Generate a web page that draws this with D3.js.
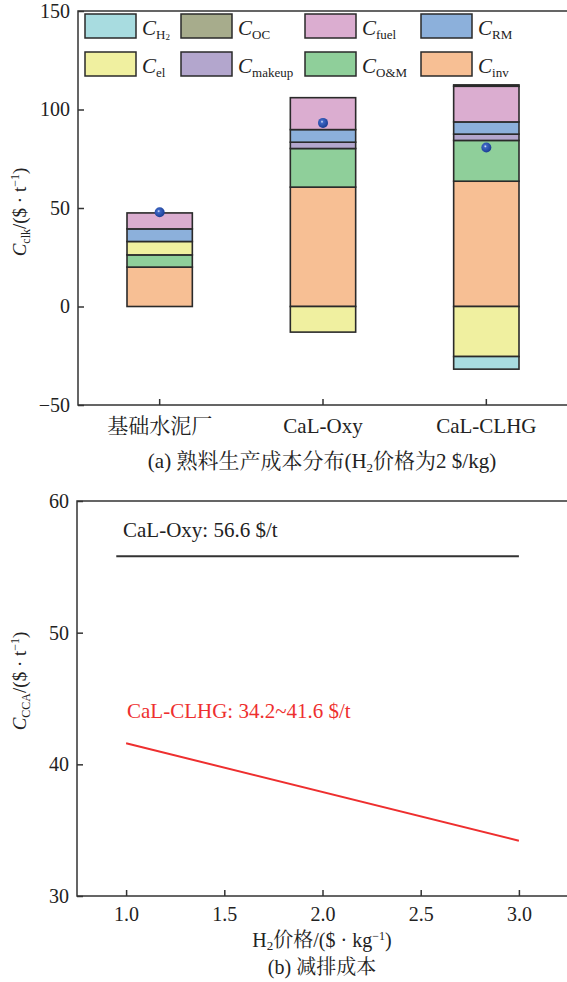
<!DOCTYPE html>
<html>
<head>
<meta charset="utf-8">
<script src="https://cdn.jsdelivr.net/npm/d3@7.9.0/dist/d3.min.js"></script>
<style>
  body { margin: 0; background: #fff; }
  svg { display: block; }
  text { font-family: "Liberation Serif", "Noto Serif CJK SC", "Noto Sans CJK SC", serif; fill: #222; }
</style>
</head>
<body>
<svg id="chart" width="567" height="982"></svg>
<script>
// (a) clinker cost per plant, $/t
const categories = ["基础水泥厂", "CaL-Oxy", "CaL-CLHG"];
const costKeys = ["inv", "OM", "el", "makeup", "RM", "fuel", "OC", "H2"];
const cInv = [20, 60.6, 63.6];
const cOM = [6.2, 19.6, 20.7];
const cEl = [6.8, -13, -25.4];
const cMakeup = [0, 3.2, 3.2];
const cRM = [6.4, 6.4, 6.2];
const cFuel = [8.1, 16.2, 18.1];
const cOC = [0, 0, 0.7];
const cH2 = [0, 0, -6.4];
const netCost = [47.8, 93.2, 80.7];
const yTicksA = [-50, 0, 50, 100, 150];

// (b) CO2 avoidance cost vs H2 price
const h2Price = [1.0, 3.0];
const clhgCost = [41.6, 34.2];
const oxyPrice = [0.95, 3.0];
const oxyCost = [55.8, 55.8];
const xTicksB = [1.0, 1.5, 2.0, 2.5, 3.0];
const yTicksB = [30, 40, 50, 60];

const colors = {
  H2: "#a8dce0", OC: "#a7ac8c", fuel: "#dbadd0", RM: "#8cb0db",
  el: "#f0f0a0", makeup: "#b3a6cd", OM: "#8fcf9a", inv: "#f7bf94"
};
const subs = { H2: "H", OC: "OC", fuel: "fuel", RM: "RM", el: "el", makeup: "makeup", OM: "O&M", inv: "inv" };
const legendRows = [["H2", "OC", "fuel", "RM"], ["el", "makeup", "OM", "inv"]];

const svg = d3.select("#chart");
const axisColor = "#333";

// ---------- panel (a) ----------
const A = { left: 78, right: 568, top: 11, bottom: 405 };
const table = categories.map((c, i) => ({
  cat: c, inv: cInv[i], OM: cOM[i], el: cEl[i], makeup: cMakeup[i],
  RM: cRM[i], fuel: cFuel[i], OC: cOC[i], H2: cH2[i]
}));
const stack = d3.stack().keys(costKeys).offset(d3.stackOffsetDiverging);
const series = stack(table);

const xA = d3.scaleBand().domain(categories).range([A.left, A.right])
  .paddingInner(0.6).paddingOuter(0.3);
const yA = d3.scaleLinear().domain([-50, 150]).range([A.bottom, A.top]);

const gA = svg.append("g");
series.forEach(s => {
  gA.selectAll(null)
    .data(s.filter(d => Math.abs(d[1] - d[0]) > 1e-9))
    .join("rect")
    .attr("x", d => xA(d.data.cat))
    .attr("width", xA.bandwidth())
    .attr("y", d => yA(Math.max(d[0], d[1])))
    .attr("height", d => Math.abs(yA(d[0]) - yA(d[1])))
    .attr("fill", colors[s.key])
    .attr("stroke", "#2a2a2a")
    .attr("stroke-width", 1.6);
});

// net cost markers
const defs = svg.append("defs");
const grad = defs.append("radialGradient").attr("id", "ball").attr("cx", "40%").attr("cy", "38%").attr("r", "60%");
grad.append("stop").attr("offset", "0%").attr("stop-color", "#e8eeff");
grad.append("stop").attr("offset", "25%").attr("stop-color", "#3d66c4");
grad.append("stop").attr("offset", "100%").attr("stop-color", "#1c3f96");
gA.selectAll(null).data(netCost).join("circle")
  .attr("cx", (d, i) => xA(categories[i]) + xA.bandwidth() / 2)
  .attr("cy", d => yA(d))
  .attr("r", 5)
  .attr("fill", "url(#ball)");

// frame and axes
svg.append("rect").attr("x", A.left).attr("y", A.top)
  .attr("width", A.right - A.left).attr("height", A.bottom - A.top)
  .attr("fill", "none").attr("stroke", axisColor).attr("stroke-width", 1.5);

const yAxisA = svg.append("g").attr("transform", `translate(${A.left},0)`)
  .call(d3.axisRight(yA).tickValues(yTicksA).tickSize(6).tickFormat(d => d < 0 ? "\u2212" + Math.abs(d) : d));
yAxisA.select(".domain").remove();
yAxisA.selectAll("line").attr("stroke", axisColor).attr("stroke-width", 1.5);
yAxisA.selectAll("text").attr("x", -8).attr("text-anchor", "end").style("font-size", "20px")
  .style("font-family", "Liberation Serif").attr("fill", "#222");

const xAxisA = svg.append("g").attr("transform", `translate(0,${A.bottom})`)
  .call(d3.axisTop(xA).tickSize(6).tickFormat(""));
xAxisA.select(".domain").remove();
xAxisA.selectAll("line").attr("stroke", axisColor).attr("stroke-width", 1.5);

svg.selectAll(null).data(categories).join("text")
  .attr("x", d => xA(d) + xA.bandwidth() / 2).attr("y", 433)
  .attr("text-anchor", "middle").style("font-size", "21px").text(d => d);

// legend
legendRows.forEach((row, r) => {
  const colX = [85, 181, 305, 421];
  row.forEach((k, c) => {
    const y0 = r === 0 ? 14 : 52;
    svg.append("rect").attr("x", colX[c]).attr("y", y0).attr("width", 51).attr("height", 24)
      .attr("fill", colors[k]).attr("stroke", "#2a2a2a").attr("stroke-width", 1.5);
    const t = svg.append("text").attr("x", colX[c] + 57).attr("y", y0 + 21).style("font-size", "21px");
    t.append("tspan").style("font-style", "italic").text("C");
    t.append("tspan").attr("dy", 4).style("font-size", "13px").text(subs[k]);
    if (k === "H2") t.append("tspan").attr("dy", 1).style("font-size", "9px").text("2");
  });
});

// y label (a)
const ylA = svg.append("text").attr("transform", "translate(26,212) rotate(-90)")
  .attr("text-anchor", "middle").style("font-size", "19px");
ylA.append("tspan").style("font-style", "italic").text("C");
ylA.append("tspan").attr("dy", 4).style("font-size", "12px").text("clk");
ylA.append("tspan").attr("dy", -4).text("/($ · t");
ylA.append("tspan").attr("dy", -7).style("font-size", "12px").text("\u22121");
ylA.append("tspan").attr("dy", 7).text(")");

// caption (a)
const capA = svg.append("text").attr("x", 322).attr("y", 468).attr("text-anchor", "middle").style("font-size", "21px");
capA.append("tspan").text("(a) 熟料生产成本分布(H");
capA.append("tspan").attr("dy", 4).style("font-size", "13px").text("2");
capA.append("tspan").attr("dy", -4).text("价格为2 $/kg)");

// ---------- panel (b) ----------
const B = { left: 77, right: 568, top: 501, bottom: 896 };
const xB = d3.scaleLinear().domain([0.75, 3.25]).range([B.left, B.right]);
const yB = d3.scaleLinear().domain([30, 60]).range([B.bottom, B.top]);

svg.append("rect").attr("x", B.left).attr("y", B.top)
  .attr("width", B.right - B.left).attr("height", B.bottom - B.top)
  .attr("fill", "none").attr("stroke", axisColor).attr("stroke-width", 1.5);

const yAxisB = svg.append("g").attr("transform", `translate(${B.left},0)`)
  .call(d3.axisRight(yB).tickValues(yTicksB).tickSize(6));
yAxisB.select(".domain").remove();
yAxisB.selectAll("line").attr("stroke", axisColor).attr("stroke-width", 1.5);
yAxisB.selectAll("text").attr("x", -8).attr("text-anchor", "end").style("font-size", "20px")
  .style("font-family", "Liberation Serif").attr("fill", "#222");

const xAxisB = svg.append("g").attr("transform", `translate(0,${B.bottom})`)
  .call(d3.axisTop(xB).tickValues(xTicksB).tickSize(6).tickFormat(d3.format(".1f")));
xAxisB.select(".domain").remove();
xAxisB.selectAll("line").attr("stroke", axisColor).attr("stroke-width", 1.5);
xAxisB.selectAll("text").attr("y", 25).attr("dy", 0).style("font-size", "20px")
  .style("font-family", "Liberation Serif").attr("fill", "#222");

const line = d3.line().x(d => xB(d[0])).y(d => yB(d[1]));
svg.append("path").datum(d3.zip(oxyPrice, oxyCost)).attr("d", line)
  .attr("fill", "none").attr("stroke", "#333").attr("stroke-width", 2);
svg.append("path").datum(d3.zip(h2Price, clhgCost)).attr("d", line)
  .attr("fill", "none").attr("stroke", "#ee2f2f").attr("stroke-width", 2);

svg.append("text").attr("x", 123).attr("y", 537).style("font-size", "21px").text("CaL-Oxy: 56.6 $/t");
svg.append("text").attr("x", 127).attr("y", 718).style("font-size", "21px").style("fill", "#ee2f2f")
  .text("CaL-CLHG: 34.2~41.6 $/t");

// y label (b)
const ylB = svg.append("text").attr("transform", "translate(26,681) rotate(-90)")
  .attr("text-anchor", "middle").style("font-size", "19px");
ylB.append("tspan").style("font-style", "italic").text("C");
ylB.append("tspan").attr("dy", 4).style("font-size", "12px").text("CCA");
ylB.append("tspan").attr("dy", -4).text("/($ · t");
ylB.append("tspan").attr("dy", -7).style("font-size", "12px").text("\u22121");
ylB.append("tspan").attr("dy", 7).text(")");

// x label (b)
const xlB = svg.append("text").attr("x", 322).attr("y", 947).attr("text-anchor", "middle").style("font-size", "20px");
xlB.append("tspan").text("H");
xlB.append("tspan").attr("dy", 3).style("font-size", "13px").text("2");
xlB.append("tspan").attr("dy", -3).text("价格/($ · kg");
xlB.append("tspan").attr("dy", -7).style("font-size", "12px").text("\u22121");
xlB.append("tspan").attr("dy", 7).text(")");

svg.append("text").attr("x", 322).attr("y", 974).attr("text-anchor", "middle").style("font-size", "20px")
  .text("(b) 减排成本");
</script>
</body>
</html>
